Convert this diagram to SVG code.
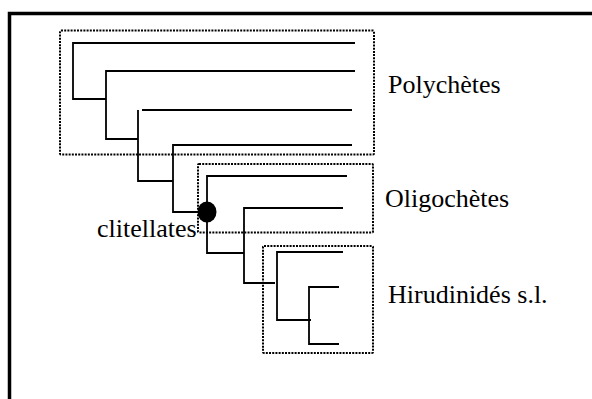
<svg xmlns="http://www.w3.org/2000/svg" width="592" height="399" viewBox="0 0 592 399">
<style>
.frame{fill:none;stroke:#000;stroke-width:3.5}
.box{fill:none;stroke:#000;stroke-width:2;stroke-dasharray:2 1.2}
.br{fill:none;stroke:#000;stroke-width:1.8}
.lbl{font-family:"Liberation Serif","Times New Roman",serif;font-size:26px;fill:#000}
</style>
<rect width="592" height="399" fill="#fff"/>
<path class="frame" d="M9.5,399 V13.5 H592"/>
<g id="connectors">
<path class="br" d="M355,43 H73 V99 H106"/>
<path class="br" d="M355,71 H106 V139 H138"/>
<path class="br" d="M352,110 H142 M138,110 V181 H173"/>
<path class="br" d="M352,145 H173 V212 H207"/>
<path class="br" d="M347,176 H207 V253 H244"/>
<path class="br" d="M343,208 H244 V283 H275"/>
<path class="br" d="M343,252 H277 V320 H311"/>
<path class="br" d="M339,287 H309 V344 H339"/>
</g>
<g id="polychetes">
<rect class="box" x="60" y="30.5" width="314" height="124" rx="1"/>
<text class="lbl" x="388" y="93">Polychètes</text>
</g>
<g id="oligochetes">
<rect class="box" x="198" y="164" width="175" height="68.5" rx="1"/>
<text class="lbl" x="385" y="207">Oligochètes</text>
</g>
<g id="hirudinides">
<rect class="box" x="263" y="246" width="110" height="107" rx="1"/>
<text class="lbl" x="388" y="303">Hirudinidés s.l.</text>
</g>
<g id="clitellates">
<ellipse cx="207" cy="212" rx="9.5" ry="10.5" fill="#000"/>
<text class="lbl" x="97" y="237">clitellates</text>
</g>
</svg>
